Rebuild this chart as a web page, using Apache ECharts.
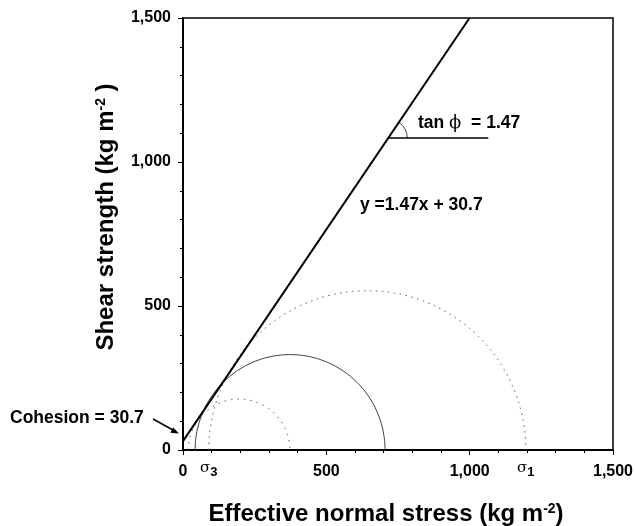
<!DOCTYPE html>
<html><head><meta charset="utf-8">
<script src="https://cdn.jsdelivr.net/npm/echarts@6/dist/echarts.min.js"></script>
<style>html,body{margin:0;padding:0;background:#fff}#c{width:635px;height:526px}</style>
</head><body><div id="c"></div>
<script>
// ---- data ----
const xTicks = [0, 500, 1000, 1500];
const yTicks = [0, 500, 1000, 1500];
const intercept = 30.7;          // cohesion
const slope = 1.47;              // tan phi
const sigma3 = [19, 42, 90];     // left ends of Mohr circles
const sigma1 = [373, 705, 1196]; // right ends of Mohr circles
const tanPoint = [716, 1083];    // start of the tan phi marker
const tanLineEndX = 1065;

// ---- styles ----
const FONT = '"Liberation Sans", Arial, sans-serif';
const circleStyles = [
  { stroke: '#555', lineWidth: 1, lineDash: [1.5, 5] },
  { stroke: '#444', lineWidth: 1 },
  { stroke: '#555', lineWidth: 1, lineDash: [1.5, 4.5] }
];
const fmt = v => String(v).replace(/\B(?=(\d{3})+(?!\d))/g, ',');

const circles = sigma3.map((s, i) => [s, sigma1[i]]);
const xMaxLine = (yTicks[yTicks.length - 1] - intercept) / slope;
const envelope = [[0, intercept], [xMaxLine, yTicks[yTicks.length - 1]]];

const supStyle = { fontFamily: FONT, fontWeight: 'bold', fontSize: 14, color: '#000', padding: [0, 0, 11, 0] };

const chart = echarts.init(document.getElementById('c'));
chart.setOption({
  animation: false,
  backgroundColor: '#fff',
  grid: { left: 183, right: 22, top: 18, bottom: 76, show: true, borderColor: '#000', borderWidth: 1.5,
    containLabel: false, outerBoundsMode: 'none' },
  xAxis: {
    type: 'value', min: xTicks[0], max: xTicks[xTicks.length - 1], interval: 500,
    name: 'Effective normal stress (kg m{sup|-2})',
    nameLocation: 'middle', nameGap: 52,
    nameTextStyle: { fontFamily: FONT, fontWeight: 'bold', fontSize: 24, color: '#000',
      padding: [0, 24, 0, 0], rich: { sup: supStyle } },
    axisLine: { lineStyle: { color: '#000', width: 2 } },
    axisTick: { show: true, length: 5, lineStyle: { color: '#000' } },
    minorTick: { show: true, splitNumber: 5, length: 3, lineStyle: { color: '#000' } },
    splitLine: { show: false },
    axisLabel: { margin: 14, fontFamily: FONT, fontWeight: 'bold', fontSize: 16, color: '#000', formatter: fmt }
  },
  yAxis: {
    type: 'value', min: yTicks[0], max: yTicks[yTicks.length - 1], interval: 500,
    name: 'Shear strength (kg m{sup|-2} )',
    nameLocation: 'middle', nameGap: 64, nameRotate: 90,
    nameTextStyle: { fontFamily: FONT, fontWeight: 'bold', fontSize: 24, color: '#000',
      padding: [0, 0, 0, 34], rich: { sup: supStyle } },
    axisLine: { lineStyle: { color: '#000', width: 2 } },
    axisTick: { show: true, length: 5, lineStyle: { color: '#000' } },
    minorTick: { show: true, splitNumber: 5, length: 3, lineStyle: { color: '#000' } },
    splitLine: { show: false },
    axisLabel: { margin: 12, fontFamily: FONT, fontWeight: 'bold', fontSize: 16, color: '#000', formatter: fmt }
  },
  series: [
    {
      type: 'custom', name: 'circles', data: circles, clip: false,
      renderItem: (params, api) => {
        const s3 = api.value(0), s1 = api.value(1);
        const c = api.coord([(s3 + s1) / 2, 0]);
        const rx = api.size([(s1 - s3) / 2, 0])[0];
        const ry = api.size([0, (s1 - s3) / 2])[1];
        return {
          type: 'path',
          shape: { pathData: `M ${c[0] - rx} ${c[1]} A ${rx} ${ry} 0 0 1 ${c[0] + rx} ${c[1]}` },
          style: Object.assign({ fill: null }, circleStyles[params.dataIndex])
        };
      }
    },
    {
      type: 'line', name: 'envelope', data: envelope, showSymbol: false, symbol: 'none',
      lineStyle: { color: '#000', width: 2 }, z: 5
    },
    {
      type: 'line', name: 'tan', data: [tanPoint, [tanLineEndX, tanPoint[1]]], showSymbol: false, symbol: 'none',
      lineStyle: { color: '#000', width: 1.5 }, z: 5
    },
    {
      type: 'custom', name: 'angle', data: [tanPoint], clip: false,
      renderItem: (params, api) => {
        const c = api.coord([api.value(0), api.value(1)]);
        const p2 = api.coord([api.value(0) + 100, api.value(1) + 100 * slope]);
        const ang = Math.atan2(p2[1] - c[1], p2[0] - c[0]);
        return {
          type: 'arc',
          shape: { cx: c[0], cy: c[1], r: 19, startAngle: ang, endAngle: 0, clockwise: true },
          style: { stroke: '#444', lineWidth: 1, fill: null }
        };
      }
    }
  ],
  graphic: [
    { type: 'text', left: 10, top: 409, style: { text: 'Cohesion = 30.7', font: 'bold 17.5px ' + FONT, fill: '#000' } },
    { type: 'line', shape: { x1: 153, y1: 419, x2: 173, y2: 430 }, style: { stroke: '#000', lineWidth: 1.5 } },
    { type: 'polygon', shape: { points: [[179, 433.5], [170.3, 432.8], [173.2, 427.4]] }, style: { fill: '#000' } },
    { type: 'text', left: 418, top: 114, style: {
      text: '{b|tan }{p|ϕ}{b|  = 1.47}',
      rich: { b: { font: 'bold 17.5px ' + FONT, fill: '#000' }, p: { font: '18px "DejaVu Serif", serif', fill: '#000' } } } },
    { type: 'text', left: 360, top: 196, style: { text: 'y =1.47x + 30.7', font: 'bold 17.5px ' + FONT, fill: '#000' } },
    { type: 'text', left: 200, top: 461, style: {
      text: '{s|σ}{d|3}',
      rich: { s: { font: '15px "DejaVu Serif", serif', fill: '#000' }, d: { font: 'bold 13px ' + FONT, fill: '#000', padding: [8, 0, 0, 0] } } } },
    { type: 'text', left: 517, top: 461, style: {
      text: '{s|σ}{d|1}',
      rich: { s: { font: '15px "DejaVu Serif", serif', fill: '#000' }, d: { font: 'bold 13px ' + FONT, fill: '#000', padding: [8, 0, 0, 0] } } } }
  ]
});
</script>
</body></html>
